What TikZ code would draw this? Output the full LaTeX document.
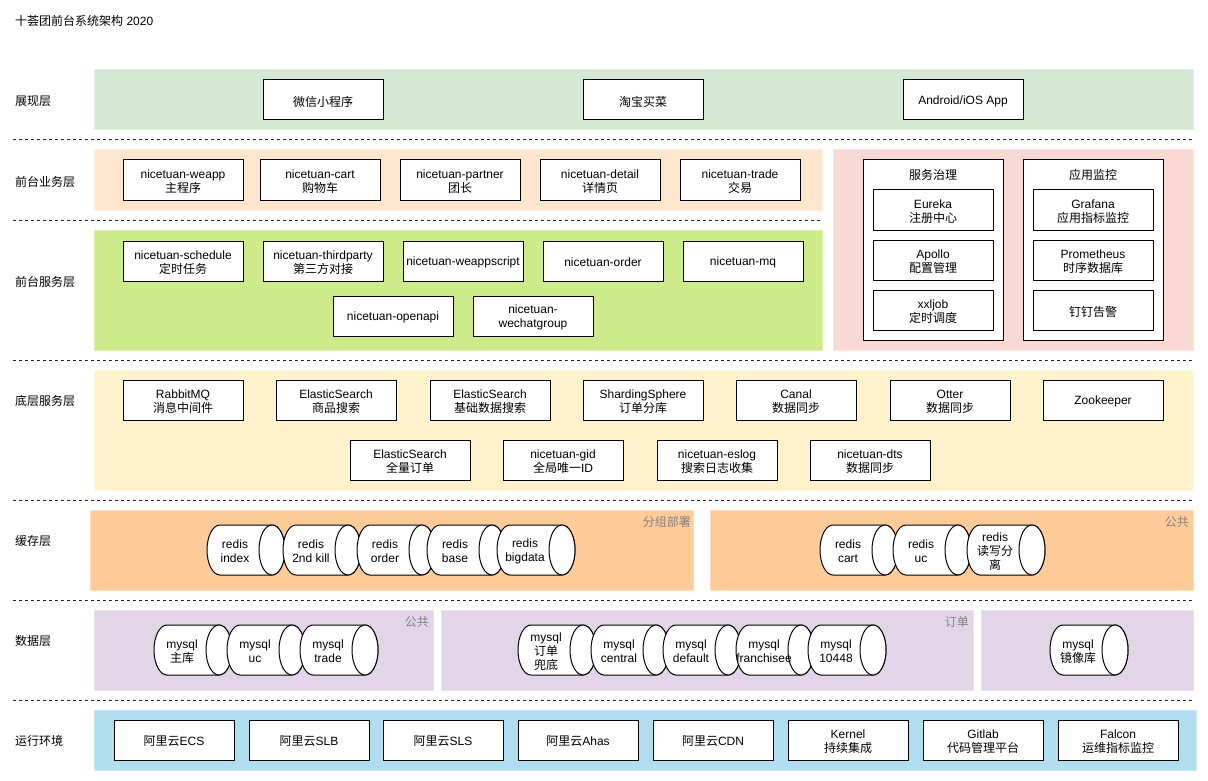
\documentclass[tikz,border=0pt]{standalone}
\usepackage{fontspec}
\setmainfont{Liberation Sans}
\newfontfamily\zhf{Noto Sans CJK SC}
\newcommand\zh[1]{{\zhf #1}}
\newcommand\fs{\fontsize{12}{14}\selectfont}
\usetikzlibrary{fit}
\definecolor{cShow}{HTML}{D5E8D4}
\definecolor{cShowB}{HTML}{E3F0E2}
\definecolor{cBiz}{HTML}{FFE6CC}
\definecolor{cBizB}{HTML}{FFEEDD}
\definecolor{cSvc}{HTML}{CDEB8B}
\definecolor{cSvcB}{HTML}{DDF2AE}
\definecolor{cPink}{HTML}{FAD9D5}
\definecolor{cPinkB}{HTML}{FCE5E2}
\definecolor{cBase}{HTML}{FFF2CC}
\definecolor{cBaseB}{HTML}{FFF7E0}
\definecolor{cCache}{HTML}{FFCC99}
\definecolor{cCacheB}{HTML}{FFDDBB}
\definecolor{cData}{HTML}{E1D5E7}
\definecolor{cDataB}{HTML}{EBE2EF}
\definecolor{cRun}{HTML}{B1DDF0}
\definecolor{cRunB}{HTML}{C8E7F5}
\definecolor{grptext}{HTML}{808080}
\newcommand\cyl[4]{%
  \filldraw[cylline] ({#2+13},#3) -- ({#2+65},#3)
    arc[start angle=90,end angle=-90,x radius=13pt,y radius=25pt]
    -- ({#2+13},{#3+50})
    arc[start angle=270,end angle=90,x radius=13pt,y radius=25pt] -- cycle;
  \draw[cylline] ({#2+65},{#3+25}) ellipse[x radius=13pt,y radius=25pt];
  \node[cyltext] (#1) at ({#2+28},{#3+26.5}) {#4};
}
\newcommand\bx[4]{%
  \node[box] (#1) at (#2,#3) {};
  \node[boxtext] (#1t) at (#2,{#3+1.5}) {#4};
}
\begin{document}
\begin{tikzpicture}[x=1pt,y=-1pt,
  every node/.style={font=\fs},
  band/.style={inner sep=0pt, line width=1pt},
  box/.style={draw=black, fill=white, line width=1pt, minimum width=120pt, minimum height=40pt, inner sep=0pt},
  boxtext/.style={align=center, inner sep=0pt},
  grpbox/.style={draw=black, fill=white, line width=1pt, minimum width=140pt, minimum height=180pt, inner sep=0pt},
  cylline/.style={draw=black, fill=white, line width=1pt},
  cyltext/.style={align=center, inner sep=0pt},
  layer/.style={anchor=west, inner sep=0pt, font=\fs\zhf},
  grp/.style={anchor=east, inner sep=0pt, text=grptext, font=\fs\zhf},
  sepline/.style={draw=black!85, line width=1pt, dash pattern=on 3pt off 3pt}
]
\useasboundingbox (0,0) rectangle (1208,781);
\fill[white] (0,0) rectangle (1208,781);

% title
\node[anchor=west, inner sep=0pt] (title) at (15,21) {\zh{十荟团前台系统架构} 2020};

% separators
\coordinate (s1a) at (13,140); \coordinate (s1b) at (1193,140);
\coordinate (s2a) at (13,220); \coordinate (s2b) at (822,220);
\coordinate (s3a) at (13,360); \coordinate (s3b) at (1193,360);
\coordinate (s4a) at (13,500); \coordinate (s4b) at (1193,500);
\coordinate (s5a) at (13,600); \coordinate (s5b) at (1193,600);
\coordinate (s6a) at (13,700); \coordinate (s6b) at (1193,700);
\draw[sepline] (s1a) -- (s1b);
\draw[sepline] (s2a) -- (s2b);
\draw[sepline] (s3a) -- (s3b);
\draw[sepline] (s4a) -- (s4b);
\draw[sepline] (s5a) -- (s5b);
\draw[sepline] (s6a) -- (s6b);

% bands
\node[band, fill=cShow, draw=cShowB, fit={(94,70) (1193,130)}] (bShow) {};
\node[band, fill=cBiz, draw=cBizB, fit={(94,150) (822,210)}] (bBiz) {};
\node[band, fill=cSvc, draw=cSvcB, fit={(94,230) (822,350)}] (bSvc) {};
\node[band, fill=cPink, draw=cPinkB, fit={(833,150) (1193,350)}] (bPink) {};
\node[band, fill=cBase, draw=cBaseB, fit={(94,370) (1193,490)}] (bBase) {};
\node[band, fill=cCache, draw=cCacheB, fit={(90,510) (693,590)}] (bCacheA) {};
\node[band, fill=cCache, draw=cCacheB, fit={(710,510) (1193,590)}] (bCacheB) {};
\node[band, fill=cData, draw=cDataB, fit={(94,610) (433,690)}] (bDataA) {};
\node[band, fill=cData, draw=cDataB, fit={(441,610) (973,690)}] (bDataB) {};
\node[band, fill=cData, draw=cDataB, fit={(981,610) (1193,690)}] (bDataC) {};
\node[band, fill=cRun, draw=cRunB, fit={(94,710) (1196,770)}] (bRun) {};

% layer labels
\node[layer] (lShow) at (15,101) {展现层};
\node[layer] (lBiz) at (15,182) {前台业务层};
\node[layer] (lSvc) at (15,282) {前台服务层};
\node[layer] (lBase) at (15,401) {底层服务层};
\node[layer] (lCache) at (15,541) {缓存层};
\node[layer] (lData) at (15,641) {数据层};
\node[layer] (lRun) at (15,741) {运行环境};

% group labels
\node[grp] (gCacheA) at (691,522) {分组部署};
\node[grp] (gCacheB) at (1189,522) {公共};
\node[grp] (gDataA) at (429,622) {公共};
\node[grp] (gDataB) at (969,622) {订单};

% presentation
\bx{wx}{323}{100}{\zh{微信小程序}}
\bx{tb}{643}{100}{\zh{淘宝买菜}}
\bx{app}{963}{100}{Android/iOS App}

% front business
\bx{weapp}{183}{180}{nicetuan-weapp\\\zh{主程序}}
\bx{cart}{320}{180}{nicetuan-cart\\\zh{购物车}}
\bx{partner}{460}{180}{nicetuan-partner\\\zh{团长}}
\bx{detail}{600}{180}{nicetuan-detail\\\zh{详情页}}
\bx{trade}{740}{180}{nicetuan-trade\\\zh{交易}}

% front services
\bx{schedule}{183}{261}{nicetuan-schedule\\\zh{定时任务}}
\bx{third}{323}{261}{nicetuan-thirdparty\\\zh{第三方对接}}
\bx{script}{463}{261}{nicetuan-weappscript}
\bx{order}{603}{261}{nicetuan-order}
\bx{mq}{743}{261}{nicetuan-mq}
\bx{openapi}{393}{316}{nicetuan-openapi}
\bx{wechat}{533}{316}{nicetuan-\\wechatgroup}

% governance / monitoring
\node[grpbox] (gov) at (933,250) {};
\node[inner sep=0pt] (govT) at (933,175) {\zh{服务治理}};
\bx{eureka}{933}{210}{Eureka\\\zh{注册中心}}
\bx{apollo}{933}{260}{Apollo\\\zh{配置管理}}
\bx{xxl}{933}{310}{xxljob\\\zh{定时调度}}
\node[grpbox] (mon) at (1093,250) {};
\node[inner sep=0pt] (monT) at (1093,175) {\zh{应用监控}};
\bx{grafana}{1093}{210}{Grafana\\\zh{应用指标监控}}
\bx{prom}{1093}{260}{Prometheus\\\zh{时序数据库}}
\bx{ding}{1093}{310}{\zh{钉钉告警}}

% base services
\bx{rabbit}{183}{400}{RabbitMQ\\\zh{消息中间件}}
\bx{es1}{336}{400}{ElasticSearch\\\zh{商品搜索}}
\bx{es2}{490}{400}{ElasticSearch\\\zh{基础数据搜索}}
\bx{shard}{643}{400}{ShardingSphere\\\zh{订单分库}}
\bx{canal}{796}{400}{Canal\\\zh{数据同步}}
\bx{otter}{950}{400}{Otter\\\zh{数据同步}}
\bx{zk}{1103}{400}{Zookeeper}
\bx{es3}{410}{460}{ElasticSearch\\\zh{全量订单}}
\bx{gid}{563}{460}{nicetuan-gid\\\zh{全局唯一}ID}
\bx{eslog}{717}{460}{nicetuan-eslog\\\zh{搜索日志收集}}
\bx{dts}{870}{460}{nicetuan-dts\\\zh{数据同步}}

% cache
\cyl{rIndex}{207}{525}{redis\\index}
\cyl{rKill}{283}{525}{redis\\2nd kill}
\cyl{rOrder}{357}{525}{redis\\order}
\cyl{rBase}{427}{525}{redis\\base}
\cyl{rBig}{497}{525}{redis\\bigdata}
\cyl{rCart}{820}{525}{redis\\cart}
\cyl{rUc}{893}{525}{redis\\uc}
\cyl{rRw}{967}{525}{redis\\\zh{读写分}\\\zh{离}}

% data
\cyl{mMain}{154}{625}{mysql\\\zh{主库}}
\cyl{mUc}{227}{625}{mysql\\uc}
\cyl{mTrade}{300}{625}{mysql\\trade}
\cyl{mFall}{518}{625}{mysql\\\zh{订单}\\\zh{兜底}}
\cyl{mCentral}{591}{625}{mysql\\central}
\cyl{mDefault}{663}{625}{mysql\\default}
\cyl{mFran}{736}{625}{mysql\\franchisee}
\cyl{m10448}{808}{625}{mysql\\10448}
\cyl{mMirror}{1050}{625}{mysql\\\zh{镜像库}}

% runtime
\bx{ecs}{174}{740}{\zh{阿里云}ECS}
\bx{slb}{309}{740}{\zh{阿里云}SLB}
\bx{sls}{443}{740}{\zh{阿里云}SLS}
\bx{ahas}{578}{740}{\zh{阿里云}Ahas}
\bx{cdn}{713}{740}{\zh{阿里云}CDN}
\bx{kernel}{848}{740}{Kernel\\\zh{持续集成}}
\bx{gitlab}{983}{740}{Gitlab\\\zh{代码管理平台}}
\bx{falcon}{1118}{740}{Falcon\\\zh{运维指标监控}}
\end{tikzpicture}
\end{document}
